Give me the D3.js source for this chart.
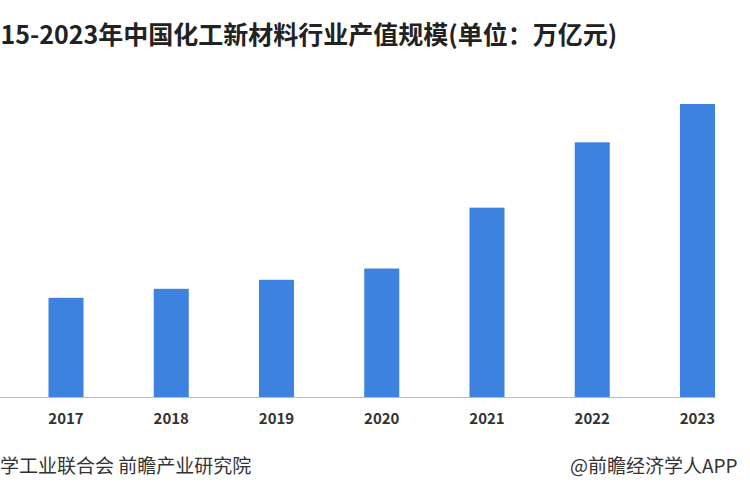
<!DOCTYPE html>
<html><head><meta charset="utf-8">
<script src="https://cdn.jsdelivr.net/npm/d3@7"></script>
<style>body{margin:0;background:#fff;overflow:hidden}</style>
</head><body>
<svg width="750" height="500"></svg>
<script>
// 产值 (万亿元)
const years = ['2015', '2016', '2017', '2018', '2019', '2020', '2021', '2022', '2023'];
const values = [0.36, 0.40, 0.44, 0.48, 0.52, 0.57, 0.84, 1.13, 1.30];

const svg = d3.select('svg');
const font = '"Noto Sans CJK SC", "Noto Sans", sans-serif';

const x = d3.scaleBand().domain(years).range([-162, 715]).paddingInner(0.667).paddingOuter(0);
const y = d3.scaleLinear().domain([0, 1.3]).range([397, 104]);

svg.append('text').attr('x', -29).attr('y', 44)
  .attr('font-family', font).attr('font-size', 25).attr('font-weight', 'bold').attr('fill', '#222')
  .text('2015-2023年中国化工新材料行业产值规模(单位：万亿元)');

svg.selectAll('.bar').data(years).enter().append('rect')
  .attr('x', d => x(d)).attr('width', x.bandwidth())
  .attr('y', (d, i) => y(values[i])).attr('height', (d, i) => y(0) - y(values[i]))
  .attr('fill', '#3d82de');

const axis = svg.append('g').attr('transform', 'translate(0,397)')
  .call(d3.axisBottom(x).tickSize(0).tickPadding(16));
axis.select('.domain').attr('stroke', '#bbb');
axis.selectAll('text').attr('font-family', font).attr('font-size', 15).attr('font-weight', 'bold').attr('fill', '#333');

svg.append('text').attr('x', -209).attr('y', 473)
  .attr('font-family', font).attr('font-size', 19).attr('fill', '#333')
  .text('资料来源：中国石油和化学工业联合会 前瞻产业研究院');
svg.append('text').attr('x', 570).attr('y', 473)
  .attr('font-family', font).attr('font-size', 19).attr('fill', '#333')
  .text('@前瞻经济学人APP');
</script>
</body></html>
